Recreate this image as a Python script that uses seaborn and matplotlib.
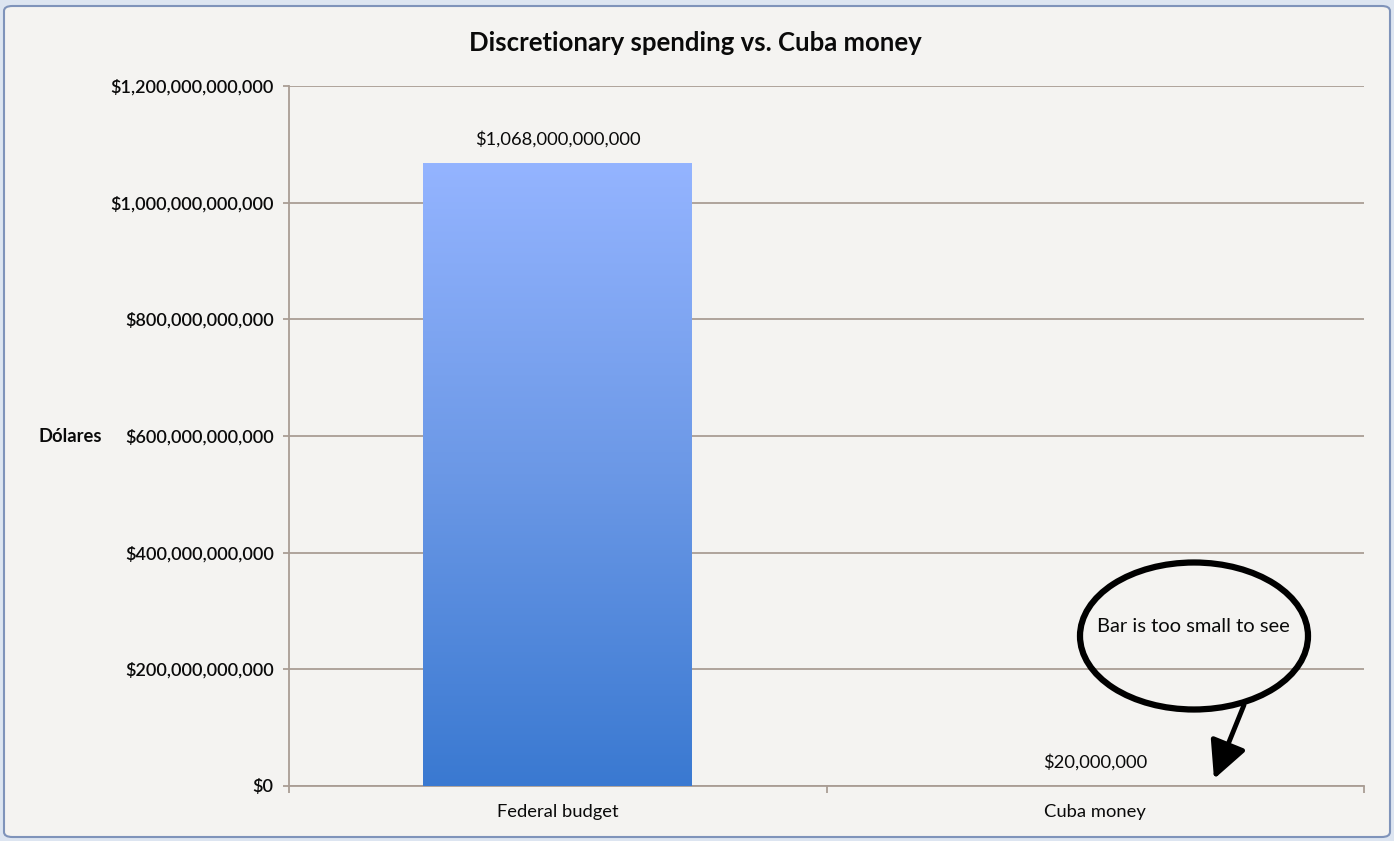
import numpy as np
import pandas as pd
import matplotlib.pyplot as plt
import seaborn as sns
from matplotlib.patches import Ellipse, FancyBboxPatch
from matplotlib.colors import LinearSegmentedColormap
from matplotlib.ticker import FuncFormatter

categories = ["Federal budget", "Cuba money"]
values = [1068000000000, 20000000]
value_labels = ["$1,068,000,000,000", "$20,000,000"]
y_ticks = [0, 200e9, 400e9, 600e9, 800e9, 1000e9, 1200e9]
title = "Discretionary spending vs. Cuba money"
y_label = "Dólares"
note = "Bar is too small to see"

BG = "#f4f3f1"
GRID = "#a99d95"
TEXT = "#0a0a0a"

sns.set_theme(style="white")
plt.rcParams["font.family"] = ["Lato", "DejaVu Sans"]

W, H = 1394, 841
fig = plt.figure(figsize=(W / 100, H / 100), dpi=100)
fig.patch.set_facecolor("#dde5f1")

card = FancyBboxPatch((4 / W, 4 / H), 1386 / W, 831 / H,
                      boxstyle="round,pad=0,rounding_size=0.006",
                      transform=fig.transFigure, facecolor=BG,
                      edgecolor="#7f93ba", lw=1.5, zorder=-10)
fig.patches.append(card)

ax = fig.add_axes([289 / W, 1 - 786 / H, (1364 - 289) / W, 700 / H])
ax.set_zorder(1)
ax.patch.set_alpha(0)

df = pd.DataFrame({"category": categories, "value": values})
sns.barplot(data=df, x="category", y="value", ax=ax, width=0.5,
            color="#6f9be8", saturation=1, zorder=3)

ax.set_ylim(0, 1.2e12)
ax.set_xlim(-0.5, 1.5)

# gradient fill on bars
cmap = LinearSegmentedColormap.from_list("bar", ["#3a79d1", "#6b98e6", "#94b4ff"])
grad = np.linspace(0, 1, 256).reshape(-1, 1)
for p in list(ax.patches):
    h = p.get_height()
    if h <= 0:
        continue
    x0 = p.get_x()
    im = ax.imshow(grad, cmap=cmap, origin="lower", aspect="auto",
                   extent=(x0, x0 + p.get_width(), 0, h), zorder=3)
    im.set_clip_path(p)
    p.set_facecolor("none")
    p.set_edgecolor("none")
ax.set_xlim(-0.5, 1.5)
ax.set_ylim(0, 1.2e12)

# value labels
for i, (v, lab) in enumerate(zip(values, value_labels)):
    ax.annotate(lab, (i, v), xytext=(0, 11), textcoords="offset points",
                ha="center", va="bottom", fontsize=13.2, color=TEXT)

ax.set_yticks(y_ticks)
ax.yaxis.set_major_formatter(FuncFormatter(lambda v, _: f"${v:,.0f}"))
ax.grid(axis="y", color=GRID, lw=1.3, zorder=0)
ax.grid(axis="x", visible=False)
ax.set_axisbelow(True)
for s in ["top", "right"]:
    ax.spines[s].set_visible(False)
for s in ["left", "bottom"]:
    ax.spines[s].set_color(GRID)
    ax.spines[s].set_linewidth(1.3)

ax.tick_params(axis="y", length=4, width=1.3, color=GRID, labelsize=13,
               labelcolor=TEXT, pad=7, left=True)
ax.tick_params(axis="x", which="major", length=0, labelsize=13.2,
               labelcolor=TEXT, pad=13)
ax.set_xticks([-0.5, 0.5, 1.5], minor=True)
ax.tick_params(axis="x", which="minor", length=5, width=1.3, color=GRID,
               bottom=True)
for t in ax.get_yticklabels():
    t.set_fontweight("semibold")

ax.set_xlabel("")
ax.set_ylabel("")
fig.text(38 / W, 1 - 437 / H, y_label, ha="left", va="center",
         fontsize=13.2, fontweight="bold", color=TEXT)
fig.text(695 / W, 1 - 43 / H, title, ha="center", va="center",
         fontsize=18.5, fontweight="bold", color=TEXT)

# callout ellipse and arrow
ell = Ellipse((1194 / W, 1 - 636 / H), 228 / W, 147 / H,
              transform=fig.transFigure, facecolor="none",
              edgecolor="black", lw=4.5, zorder=5)
fig.patches.append(ell)
fig.text(1193 / W, 1 - 627 / H, note, ha="center", va="center",
         fontsize=14.5, color=TEXT, zorder=6)
ax.annotate("", xy=(1214 / W, 1 - 779 / H), xycoords="figure fraction",
            xytext=(1244 / W, 1 - 705 / H), textcoords="figure fraction",
            arrowprops=dict(arrowstyle="-|>,head_length=1.9,head_width=0.95",
                            color="black", lw=3.5, shrinkA=0, shrinkB=0),
            annotation_clip=False)

fig.savefig("out.png", dpi=100, facecolor=fig.get_facecolor())
